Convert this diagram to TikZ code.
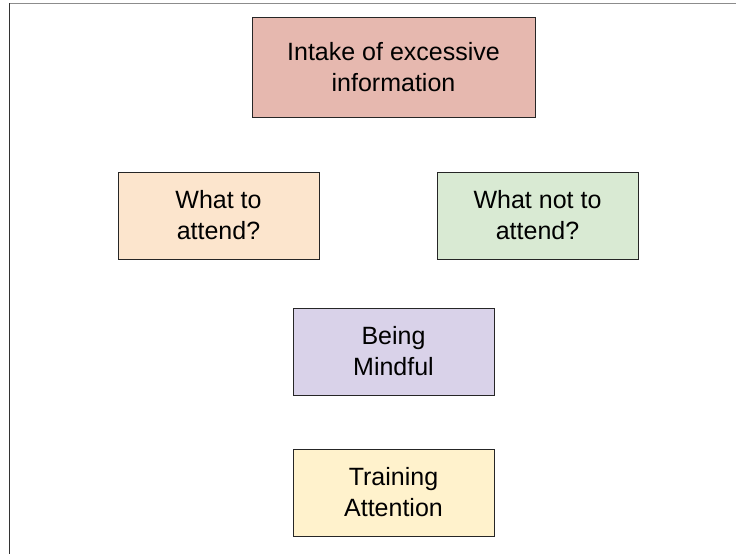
\documentclass[tikz,border=0pt]{standalone}
\usepackage{fontspec}
\setmainfont{Liberation Sans}
\definecolor{cRed}{HTML}{E6B8AF}
\definecolor{cOrange}{HTML}{FCE5CD}
\definecolor{cGreen}{HTML}{D9EAD3}
\definecolor{cPurple}{HTML}{D9D2E9}
\definecolor{cYellow}{HTML}{FFF2CC}
\tikzset{
  box/.style={draw=black!85, line width=0.9pt, rectangle, inner sep=0pt,
    align=center, font=\fontsize{25}{31}\selectfont, text=black},
  smallbox/.style={box, minimum width=201pt, minimum height=87pt}
}
\begin{document}
\begin{tikzpicture}[x=1pt,y=-1pt]
\useasboundingbox (0,0) rectangle (736,554);
\fill[white] (0,0) rectangle (736,554);
% frame
\coordinate (fc) at (9.5,3);
\coordinate (fr) at (736,3);
\coordinate (fb) at (9.5,554);
\draw[gray!90, line width=1pt] (fc) -- (fr);
\draw[black!80, line width=1pt] (fc) -- (fb);
% boxes
\node[box, fill=cRed, minimum width=283pt, minimum height=100pt] (intake) at (393.5,67) {Intake of excessive\\information};
\node[smallbox, fill=cOrange] (what) at (218.5,215.5) {What to\\attend?};
\node[smallbox, fill=cGreen] (whatnot) at (537.5,215.5) {What not to\\attend?};
\node[smallbox, fill=cPurple] (mindful) at (393.5,351.5) {Being\\Mindful};
\node[smallbox, fill=cYellow] (training) at (393.5,492.5) {Training\\Attention};
\end{tikzpicture}
\end{document}
